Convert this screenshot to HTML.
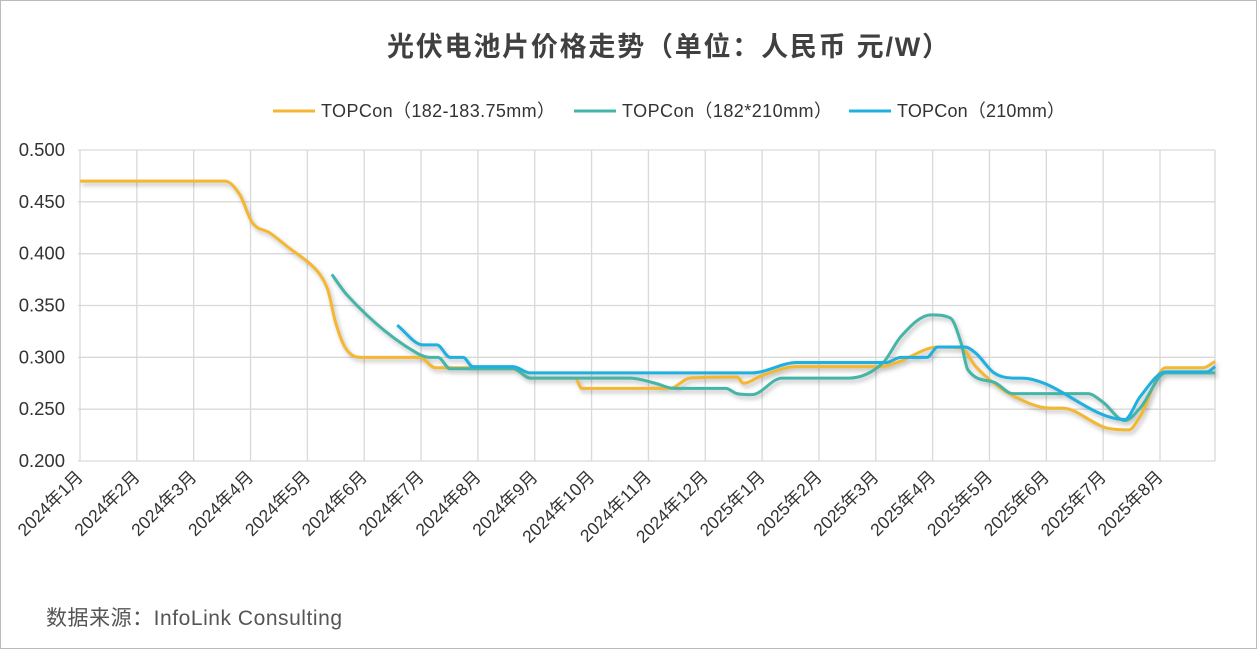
<!DOCTYPE html>
<html><head><meta charset="utf-8">
<style>
body{margin:0;background:#fff;}
#wrap{position:relative;width:1257px;height:649px;overflow:hidden;font-family:"Liberation Sans","Noto Sans CJK SC",sans-serif;}
</style></head>
<body>
<div id="wrap">
<svg id="chart" width="1257" height="649">
<rect x="0.5" y="0.5" width="1256" height="648" fill="#fff" stroke="#bbb"/>
<text x="668" y="56" text-anchor="middle" font-size="27" font-weight="bold" fill="#404040" font-family="Liberation Sans,Noto Sans CJK SC,sans-serif" textLength="562">光伏电池片价格走势（单位：人民币 元/W）</text>
<g id="legend"></g>
<g id="grid"></g>
<g id="lines" style="filter:drop-shadow(2px 3px 2px rgba(0,0,0,0.25))"></g>
<g id="axes"></g>
<text x="46" y="625" font-size="21" fill="#555" font-family="Liberation Sans,Noto Sans CJK SC,sans-serif" textLength="296">数据来源：InfoLink Consulting</text>
</svg>
</div>
<script>
const monthLabels=["2024年1月","2024年2月","2024年3月","2024年4月","2024年5月","2024年6月","2024年7月","2024年8月","2024年9月","2024年10月","2024年11月","2024年12月","2025年1月","2025年2月","2025年3月","2025年4月","2025年5月","2025年6月","2025年7月","2025年8月"];
const yTicks=[0.2,0.25,0.3,0.35,0.4,0.45,0.5];
const seriesNames=["TOPCon（182-183.75mm）","TOPCon（182*210mm）","TOPCon（210mm）"];
const seriesColors=["#f5b731","#45b5a8","#1fb0df"];
const t1=[0,2.55,2.81,3.03,3.34,3.69,4.05,4.22,4.36,4.49,4.66,4.93,5.98,6.25,7.65,7.92,8.71,8.83,9.85,10.38,10.73,11.56,11.67,12.02,12.61,14.06,14.37,15.09,15.50,15.76,16.08,16.41,17.07,17.28,18.05,18.45,18.65,19.10,19.76,19.97];
const v1=[.47,.47,.457,.43,.42,.405,.39,.38,.365,.335,.31,.30,.30,.29,.29,.28,.28,.27,.27,.27,.28,.281,.275,.283,.291,.291,.295,.31,.309,.291,.275,.263,.251,.251,.232,.23,.243,.29,.29,.296];
const t2=[4.43,4.70,5.93,6.16,6.30,6.51,7.62,7.92,9.68,10.12,10.45,11.36,11.56,11.82,12.35,13.53,14.13,14.44,14.97,15.31,15.50,15.62,16.08,16.41,17.73,17.99,18.38,18.65,19.10,19.97];
const v2=[.38,.36,.304,.30,.30,.289,.289,.28,.28,.275,.27,.27,.265,.264,.28,.28,.295,.32,.341,.338,.314,.288,.276,.265,.265,.257,.239,.251,.285,.285];
const t3=[5.58,6.03,6.28,6.51,6.74,6.91,7.62,7.92,11.82,12.61,14.18,14.44,14.90,15.09,15.57,15.76,16.08,16.41,16.56,18.38,18.65,19.10,19.83,19.97];
const v3=[.331,.312,.312,.30,.30,.291,.291,.285,.285,.295,.295,.30,.30,.31,.31,.304,.285,.28,.28,.24,.262,.286,.286,.291];

const NS="http://www.w3.org/2000/svg";
const X0=78,X1=1215,Y0=461,Y1=150;
const pxPerMonth=(1160-80)/19;
const xs=t=>80+t*pxPerMonth;
const ys=v=>Y0-(v-0.2)/(0.5-0.2)*(Y0-Y1);
function mk(tag,attrs,parent){const e=document.createElementNS(NS,tag);for(const k in attrs)e.setAttribute(k,attrs[k]);parent.appendChild(e);return e;}
const grid=document.getElementById('grid'),axes=document.getElementById('axes'),lines=document.getElementById('lines'),legend=document.getElementById('legend');
yTicks.forEach(v=>{
  const l=mk('line',{x1:X0,x2:X1,y1:ys(v),y2:ys(v),stroke:'#d9d9d9','stroke-width':1.3},grid);
  
  
  const t=mk('text',{x:65,y:ys(v)+6,'text-anchor':'end','font-size':18.5,fill:'#333'},axes);
  t.textContent=v.toFixed(3);
  
  
});
monthLabels.forEach((m,i)=>{
  const x=xs(i);
  const l=mk('line',{x1:x,x2:x,y1:Y1,y2:Y0,stroke:'#d9d9d9','stroke-width':1.3},grid);
  
  
  const t=mk('text',{x:0,y:0,'text-anchor':'end','font-size':17.5,fill:'#333',transform:`translate(${x+4},${Y0+17}) rotate(-45)`,'font-family':'Liberation Sans,Noto Sans CJK SC,sans-serif'},axes);
  t.textContent=m;
  
  
});
const rl=mk('line',{x1:X1,x2:X1,y1:Y1,y2:Y0,stroke:'#d9d9d9','stroke-width':1.3},grid);



function monotonePath(px,py){
  const n=px.length;const d=[],m=[];
  for(let i=0;i<n-1;i++)d.push((py[i+1]-py[i])/(px[i+1]-px[i]));
  m[0]=d[0];m[n-1]=d[n-2];
  for(let i=1;i<n-1;i++){m[i]=(d[i-1]*d[i]<=0)?0:(d[i-1]+d[i])/2;}
  for(let i=0;i<n-1;i++){if(d[i]===0){m[i]=0;m[i+1]=0;continue;}const a=m[i]/d[i],b=m[i+1]/d[i],s=a*a+b*b;if(s>9){const k=3/Math.sqrt(s);m[i]=k*a*d[i];m[i+1]=k*b*d[i];}}
  let p=`M${px[0]},${py[0]}`;
  for(let i=0;i<n-1;i++){const h=(px[i+1]-px[i])/3;p+=` C${px[i]+h},${py[i]+m[i]*h} ${px[i+1]-h},${py[i+1]-m[i+1]*h} ${px[i+1]},${py[i+1]}`;}
  return p;
}
[[t1,v1],[t2,v2],[t3,v3]].forEach((s,i)=>{
  const p=mk('path',{d:monotonePath(s[0].map(xs),s[1].map(ys)),fill:'none',stroke:seriesColors[i],'stroke-width':3,'stroke-linejoin':'round'},lines);
  
  
});
const legX=[273,574,849];
const legW=[234,210,168];
seriesNames.forEach((n,i)=>{
  const g=mk('g',{},legend);
  
  
  mk('line',{x1:legX[i],x2:legX[i]+42,y1:111,y2:111,stroke:seriesColors[i],'stroke-width':3},g);
  const t=mk('text',{x:legX[i]+48,y:117,'font-size':18,fill:'#333','font-family':'Liberation Sans,Noto Sans CJK SC,sans-serif',textLength:legW[i]},g);
  t.textContent=n;
});
</script>
</body></html>
